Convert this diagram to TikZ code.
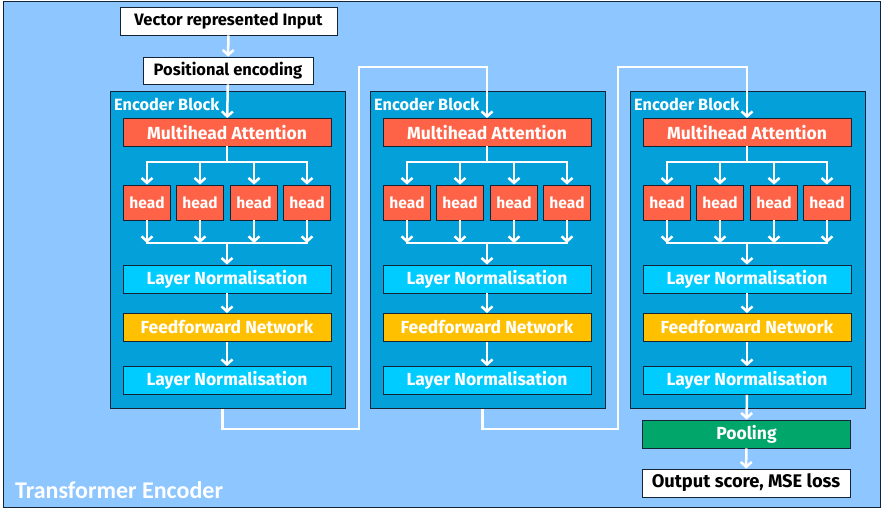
\documentclass[tikz,border=0pt]{standalone}
\usepackage{fontspec}
\setmainfont{Fira Sans}
\newfontfamily\titlefont{Carlito}
\usetikzlibrary{arrows.meta}

\definecolor{outer}{RGB}{142,198,255}
\definecolor{block}{RGB}{4,160,218}
\definecolor{edge}{RGB}{20,36,52}
\definecolor{tomato}{RGB}{255,99,71}
\definecolor{lnorm}{RGB}{0,204,255}
\definecolor{ffwd}{RGB}{255,192,0}
\definecolor{pool}{RGB}{0,166,106}

\begin{document}
\begin{tikzpicture}[x=1pt,y=1pt,yscale=-1,
  box/.style={draw=edge, line width=0.8pt, minimum height=28, inner sep=0pt, text=white,
    font=\fontsize{17.5}{20}\selectfont\bfseries},
  wide/.style={box, minimum width=208},
  headbox/.style={box, fill=tomato, minimum width=47, minimum height=35,
    font=\fontsize{15.5}{18}\selectfont\bfseries},
  plain/.style={box, fill=white, text=black, font=\fontsize{16.5}{19}\selectfont\bfseries},
  flow/.style={draw=white, line width=2.5pt, -{Straight Barb[length=5pt,width=11pt]}},
  wire/.style={draw=white, line width=2.5pt, line cap=rect}]
\path[use as bounding box] (0,0) rectangle (881,519);

%Shape: outer frame
\draw [draw=edge, fill=outer, line width=0.8pt] (3,1) rectangle (880,507);
% Text Node
\node [anchor=west, text=white, inner sep=0pt, font=\titlefont\fontsize{24}{27}\selectfont\bfseries] (title) at (15,490) {Transformer Encoder};

%Encoder blocks
\foreach \k/\cx in {1/227, 2/487, 3/747} {
  \node [draw=edge, fill=block, line width=0.8pt, minimum width=235, minimum height=317, inner sep=0pt, anchor=north] (enc\k) at ({\cx+0.5},91) {};
  \node [anchor=west, inner sep=0pt, text=white, font=\fontsize{16.3}{19}\selectfont\bfseries] (encl\k) at ({\cx-113},104) {Encoder Block};
  \node [wide, fill=tomato] (mha\k) at (\cx,132.5) {Multihead Attention};
  \node [wide, fill=lnorm] (lna\k) at (\cx,279) {Layer Normalisation};
  \node [wide, fill=ffwd] (ff\k) at (\cx,327.5) {Feedforward Network};
  \node [wide, fill=lnorm] (lnb\k) at (\cx,380.5) {Layer Normalisation};
  \coordinate (sp\k) at (\cx,162);
  \coordinate (mg\k) at (\cx,243);
  \foreach \h/\dx in {a/-80, b/-27, c/27, d/80}
    \node [headbox] (hd\k\h) at ({\cx+\dx},202.5) {head};
  %split and merge
  \draw [wire] (mha\k.south) -- (sp\k);
  \draw [wire] (hd\k a.north |- sp\k) -- (hd\k d.north |- sp\k);
  \draw [wire] (hd\k a.south |- mg\k) -- (hd\k d.south |- mg\k);
  \foreach \h in {a,b,c,d} {
    \draw [flow] (hd\k\h.north |- sp\k) -- (hd\k\h.north);
    \draw [flow] (hd\k\h.south) -- (hd\k\h.south |- mg\k);
  }
  \draw [flow] (mg\k) -- (lna\k);
  \draw [flow] (lna\k) -- (ff\k);
  \draw [flow] (ff\k) -- (lnb\k);
}

% Text Node
\node [plain, minimum width=217, minimum height=28] (input) at (228.5,21) {Vector represented Input};
% Text Node
\node [plain, minimum width=170, minimum height=27] (posenc) at (228,70.5) {Positional encoding};
% Text Node
\node [wide, fill=pool] (pooling) at (746.5,434) {Pooling};
% Text Node
\node [plain, minimum width=208, font=\fontsize{18.3}{21}\selectfont\bfseries] (output) at (746,483) {Output score, MSE loss};

\draw [flow] (input) -- (posenc);
\draw [flow] (posenc) -- (mha1);

%links between blocks
\coordinate (turn1) at (359,67);
\coordinate (turn2) at (618,67);
\draw [flow] ([xshift=-5pt]enc1.south) -- ++(0,20) -| (turn1) -| (mha2.north);
\draw [flow] ([xshift=-5pt]enc2.south) -- ++(0,20) -| (turn2) -| (mha3.north);

\draw [flow] (lnb3) -- (pooling);
\draw [flow] (pooling) -- (output);

\end{tikzpicture}
\end{document}
